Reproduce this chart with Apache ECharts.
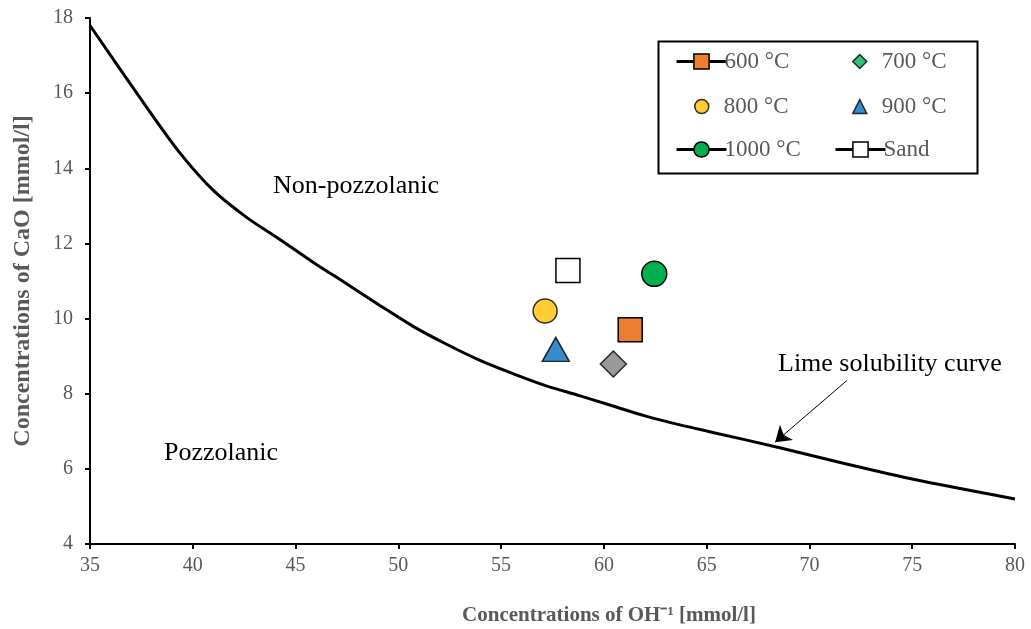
<!DOCTYPE html>
<html>
<head>
<meta charset="utf-8">
<script src="https://cdn.jsdelivr.net/npm/echarts@6/dist/echarts.min.js"></script>
<style>
  html, body { margin: 0; padding: 0; background: #fff; }
  #lime { width: 1031px; height: 629px; }
</style>
</head>
<body>
<div id="lime"></div>
<script>
// lime solubility curve
var curveX = [35, 37.75, 39.4, 41, 42.6, 44.2, 45.85, 47.5, 49.1, 50.7, 52.3, 54, 55.6, 57.2, 58.8, 60.4, 62, 63.7, 65.3, 68.5, 71.8, 75, 80];
var curveY = [17.8, 15.63, 14.39, 13.41, 12.7, 12.12, 11.5, 10.92, 10.35, 9.8, 9.33, 8.88, 8.53, 8.21, 7.95, 7.68, 7.41, 7.17, 6.97, 6.57, 6.13, 5.73, 5.2];

// measured samples [OH, CaO]
var p600 = [61.28, 9.7];
var p700 = [60.46, 8.79];
var p800 = [57.14, 10.2];
var p900 = [57.66, 9.18];
var p1000 = [62.45, 11.19];
var pSand = [58.25, 11.28];

var xTicks = { min: 35, max: 80, interval: 5 };
var yTicks = { min: 4, max: 18, interval: 2 };

var arrowFrom = [71.82, 8.35];
var arrowTo = [68.33, 6.71];

var serif = 'Liberation Serif';
var grey = '#595959';

function zip(a, b) {
  return a.map(function (v, i) { return [v, b[i]]; });
}

var border = { borderColor: '#000', borderWidth: 1.5 };

// one legend per entry so the two columns line up like the original box
var rowY = [57, 102, 145];
function lineKey(name, iconLeft, row) {
  return {
    left: iconLeft, top: rowY[row] - 12,
    itemWidth: 50, itemHeight: 19,
    lineStyle: { width: 3, color: '#000' },
    itemStyle: { borderWidth: 1.5, borderColor: '#000' },
    textStyle: { fontFamily: serif, fontSize: 23, color: grey, padding: [0, 0, 0, -7] },
    data: [name]
  };
}
function dotKey(name, cx, textLeft, row, color) {
  var d = { name: name };
  if (color) d.itemStyle = { color: color };
  return {
    left: cx - 7, top: rowY[row] - 12,
    itemWidth: 14, itemHeight: 14,
    itemStyle: { borderWidth: 1.5, borderColor: '#000' },
    textStyle: { fontFamily: serif, fontSize: 23, color: grey, padding: [0, 0, 0, textLeft - (cx + 7 + 5) - 6] },
    data: [d]
  };
}

var option = {
  animation: false,
  textStyle: { fontFamily: serif },
  grid: { left: 90, right: 16, top: 18, bottom: 85, outerBoundsMode: 'none' },
  xAxis: {
    type: 'value',
    min: xTicks.min, max: xTicks.max, interval: xTicks.interval,
    name: 'Concentrations of OH\u207B\u00B9 [mmol/l]',
    nameLocation: 'middle',
    nameGap: 61,
    nameTextStyle: { fontFamily: serif, fontSize: 21, fontWeight: 'bold', color: grey, padding: [0, 0, 0, 113] },
    axisLine: { lineStyle: { color: '#000', width: 2 } },
    axisTick: { show: true, length: 5, lineStyle: { color: '#000', width: 2 } },
    axisLabel: { fontFamily: serif, fontSize: 20, color: grey, margin: 12 },
    splitLine: { show: false }
  },
  yAxis: {
    type: 'value',
    min: yTicks.min, max: yTicks.max, interval: yTicks.interval,
    name: 'Concentrations of CaO [mmol/l]',
    nameLocation: 'middle',
    nameGap: 55,
    nameTextStyle: { fontFamily: serif, fontSize: 24, fontWeight: 'bold', color: grey },
    axisLine: { show: true, lineStyle: { color: '#000', width: 2 } },
    axisTick: { show: true, length: 5, lineStyle: { color: '#000', width: 2 } },
    axisLabel: { fontFamily: serif, fontSize: 20, color: grey, margin: 17 },
    splitLine: { show: false }
  },
  legend: [
    lineKey('600 °C', 670, 0),
    dotKey('700 °C', 854, 882, 0, '#00B050'),
    dotKey('800 °C', 696, 724, 1),
    dotKey('900 °C', 854, 882, 1),
    lineKey('1000 °C', 670, 2),
    lineKey('Sand', 829, 2)
  ],
  graphic: [
    { type: 'rect', left: 656, top: 39, shape: { width: 319, height: 132 },
      style: { fill: 'none', stroke: '#000', lineWidth: 2 } },
    { type: 'text', left: 273, top: 173, style: { text: 'Non-pozzolanic', font: '26px "Liberation Serif"', fill: '#000' } },
    { type: 'text', left: 164, top: 440, style: { text: 'Pozzolanic', font: '26px "Liberation Serif"', fill: '#000' } },
    { type: 'text', left: 778, top: 351, style: { text: 'Lime solubility curve', font: '26px "Liberation Serif"', fill: '#000' } }
  ],
  series: [
    {
      name: 'curve', type: 'line', smooth: 0.3, showSymbol: false,
      data: zip(curveX, curveY),
      lineStyle: { color: '#000', width: 3 },
      silent: true
    },
    {
      name: 'arrow', type: 'line', data: [], silent: true,
      markLine: {
        silent: true, symbol: ['none', 'arrow'], symbolSize: 15,
        label: { show: false },
        lineStyle: { color: '#000', width: 1, type: 'solid' },
        itemStyle: { color: '#000' },
        data: [[{ coord: arrowFrom }, { coord: arrowTo }]]
      }
    },
    { name: '600 °C', type: 'line', data: [p600], symbol: 'rect', symbolSize: 24,
      lineStyle: { color: '#000', width: 3 }, itemStyle: Object.assign({ color: '#ED7D31' }, border), z: 3 },
    { name: '700 °C', type: 'scatter', data: [p700], symbol: 'diamond', symbolSize: 26,
      itemStyle: Object.assign({ color: '#808080' }, border), z: 3 },
    { name: '800 °C', type: 'scatter', data: [p800], symbol: 'circle', symbolSize: 24,
      itemStyle: Object.assign({ color: '#FFC000' }, border), z: 3 },
    { name: '900 °C', type: 'scatter', data: [p900], symbol: 'triangle', symbolSize: [27, 24],
      itemStyle: Object.assign({ color: '#0070C0' }, border), z: 3 },
    { name: '1000 °C', type: 'line', data: [p1000], symbol: 'circle', symbolSize: 25,
      lineStyle: { color: '#000', width: 3 }, itemStyle: Object.assign({ color: '#00B050' }, border), z: 3 },
    { name: 'Sand', type: 'line', data: [pSand], symbol: 'rect', symbolSize: 24,
      lineStyle: { color: '#000', width: 3 }, itemStyle: Object.assign({ color: '#fff' }, border), z: 3 }
  ]
};

var chart = echarts.init(document.getElementById('lime'));
chart.setOption(option);
window.addEventListener('resize', function () {
  chart.resize();
});
</script>
</body>
</html>
